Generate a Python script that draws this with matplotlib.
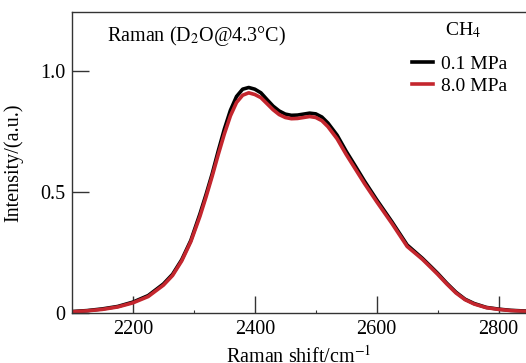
import matplotlib
matplotlib.use("Agg")
import matplotlib.pyplot as plt

plt.rcParams['font.family'] = ['Liberation Serif', 'DejaVu Serif']
plt.rcParams['mathtext.fontset'] = 'stix'

shift = [2100, 2125, 2150, 2175, 2200, 2225, 2250, 2265, 2280, 2295, 2310, 2320, 2330,
         2340, 2350, 2360, 2370, 2380, 2390, 2400, 2410, 2420, 2430, 2440, 2450, 2460,
         2470, 2480, 2490, 2500, 2510, 2520, 2535, 2550, 2565, 2580, 2600, 2625, 2650,
         2675, 2690, 2700, 2715, 2730, 2745, 2760, 2780, 2800, 2820, 2845]
i_01MPa = [0.006, 0.010, 0.017, 0.027, 0.045, 0.072, 0.120, 0.160, 0.220, 0.300, 0.410,
           0.490, 0.575, 0.670, 0.760, 0.838, 0.895, 0.925, 0.932, 0.925, 0.910, 0.882,
           0.855, 0.835, 0.822, 0.817, 0.818, 0.822, 0.826, 0.823, 0.810, 0.785, 0.735,
           0.668, 0.607, 0.545, 0.468, 0.377, 0.281, 0.226, 0.189, 0.164, 0.123, 0.086,
           0.057, 0.039, 0.023, 0.016, 0.011, 0.008]
i_80MPa = [0.005, 0.009, 0.015, 0.025, 0.042, 0.068, 0.115, 0.155, 0.215, 0.295, 0.400,
           0.480, 0.565, 0.655, 0.740, 0.815, 0.870, 0.900, 0.910, 0.903, 0.890, 0.865,
           0.840, 0.820, 0.808, 0.803, 0.804, 0.808, 0.812, 0.808, 0.795, 0.770, 0.720,
           0.655, 0.595, 0.535, 0.460, 0.370, 0.275, 0.222, 0.185, 0.160, 0.120, 0.083,
           0.055, 0.037, 0.022, 0.015, 0.010, 0.007]
series_labels = ['0.1 MPa', '8.0 MPa']
x_ticks = [2200, 2400, 2600, 2800]
y_ticks = [0, 0.5, 1.0]
y_ticklabels = ['0', '0.5', '1.0']

W, H = 526, 363
fig = plt.figure(figsize=(W / 100, H / 100), dpi=100)
ax = fig.add_axes([72 / W, (H - 313) / H, (W - 72) / W, (313 - 12) / H])

ax.plot(shift, i_01MPa, color='black', lw=2.6, label=series_labels[0], solid_joinstyle='round')
ax.plot(shift, i_80MPa, color='#c4262e', lw=2.6, label=series_labels[1], solid_joinstyle='round')

ax.set_xlim(2100, 2845)
ax.set_ylim(0, 1.244)
ax.set_xticks(x_ticks)
ax.set_xticks([2300, 2500, 2700], minor=True)
ax.set_yticks(y_ticks)
ax.set_yticklabels(y_ticklabels)

for s in ['top', 'left', 'bottom']:
    ax.spines[s].set_color('#333333')
    ax.spines[s].set_linewidth(1.0)
ax.spines['right'].set_visible(False)

ax.tick_params(axis='both', which='major', direction='in', length=12, width=1.0,
               labelsize=14.5, color='#333333', pad=5)
ax.tick_params(axis='x', which='minor', direction='in', length=2.5, width=0.8, color='#333333')
ax.tick_params(axis='y', which='minor', left=False)

ax.set_xlabel('Raman shift/cm$^{-1}$', fontsize=14.5, labelpad=5)
ax.set_ylabel('Intensity/(a.u.)', fontsize=14.5, labelpad=12)

ax.text(107 / W, 1 - 36 / H, 'Raman (D$_2$O@4.3°C)', transform=fig.transFigure,
        fontsize=14.5, va='center', ha='left')
fig.text(445 / W, 1 - 30 / H, 'CH$_4$', fontsize=14, va='center', ha='left')

leg = ax.legend(loc='upper left', bbox_to_anchor=(412 / W, 1 - 55 / H),
                bbox_transform=fig.transFigure, frameon=False, fontsize=14,
                handlelength=1.1, handletextpad=0.4, labelspacing=0.25, borderpad=0.0,
                borderaxespad=0.0)
fig.savefig('out.png', dpi=100)
